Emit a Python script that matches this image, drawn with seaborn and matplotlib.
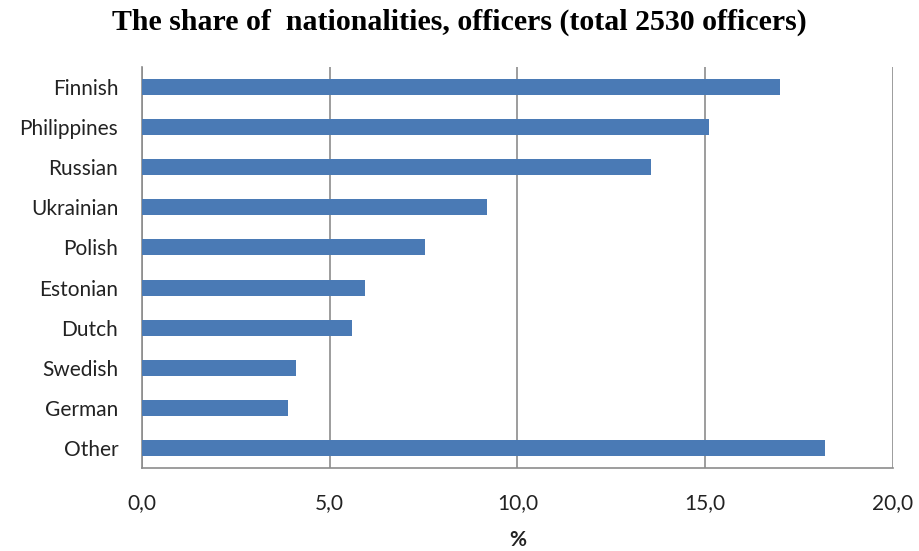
import matplotlib
matplotlib.use("Agg")
import matplotlib.pyplot as plt
import numpy as np
import pandas as pd
import seaborn as sns
from matplotlib.ticker import FixedLocator, FuncFormatter

# Data
nationalities = ["Finnish", "Philippines", "Russian", "Ukrainian", "Polish",
                 "Estonian", "Dutch", "Swedish", "German", "Other"]
share_pct = [17.0, 15.1, 13.55, 9.2, 7.55, 5.95, 5.6, 4.1, 3.9, 18.2]
x_ticks = [0, 5, 10, 15, 20]

BAR_COLOR = "#4A7AB5"
GRID_COLOR = "#8C8C8C"
TEXT_COLOR = "#222222"

sns.set_style("white")
plt.rcParams["font.family"] = ["Lato", "DejaVu Sans"]

df = pd.DataFrame({"nationality": nationalities, "share": share_pct})

fig = plt.figure(figsize=(9.19, 5.51), dpi=100)
ax = fig.add_axes([0.1545, 0.1506, 0.8172, 0.7278])

sns.barplot(data=df, x="share", y="nationality", color=BAR_COLOR,
            width=0.4, saturation=1, linewidth=0, ax=ax, zorder=3)

ax.set_xlim(0, 20)
ax.set_ylim(len(nationalities) - 0.5, -0.5)
ax.xaxis.set_major_locator(FixedLocator(x_ticks))
ax.xaxis.set_major_formatter(FuncFormatter(lambda v, _: f"{v:.1f}".replace(".", ",")))
ax.grid(axis="x", color=GRID_COLOR, linewidth=1.2, zorder=0)
ax.grid(axis="y", visible=False)

# spines like an old Excel chart
for side in ["top", "right"]:
    ax.spines[side].set_visible(False)
for side in ["left", "bottom"]:
    ax.spines[side].set_color(GRID_COLOR)
    ax.spines[side].set_linewidth(1.2)

# category boundary ticks on y, outward ticks on x
ax.yaxis.set_minor_locator(FixedLocator(np.arange(-0.5, len(nationalities), 1)))
ax.tick_params(axis="y", which="major", length=0, pad=17, labelsize=15,
               labelcolor=TEXT_COLOR)
ax.tick_params(axis="y", which="minor", length=5, color=GRID_COLOR, width=1.2)
ax.tick_params(axis="x", which="major", length=6, color=GRID_COLOR, width=1.2,
               pad=12, labelsize=15, labelcolor=TEXT_COLOR)
ax.set_ylabel("")
ax.set_xlabel("%", fontsize=15, fontweight="bold", labelpad=12, color=TEXT_COLOR)

fig.suptitle("The share of  nationalities, officers (total 2530 officers)",
             x=0.5, y=0.96, va="center", fontsize=21.5, fontweight="bold",
             color="black", family=["Liberation Serif", "DejaVu Serif"])

fig.savefig("out.png", dpi=100)
